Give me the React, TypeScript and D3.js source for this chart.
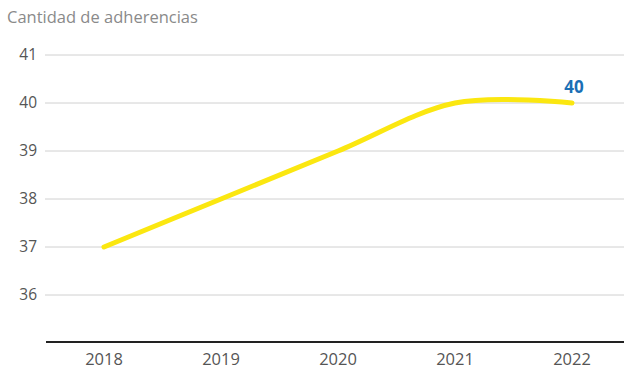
import React from "react";
import * as d3 from "d3";

const years = [2018, 2019, 2020, 2021, 2022];
const values = [37, 38, 39, 40, 40];
const yTicks = [36, 37, 38, 39, 40, 41];
const title = "Cantidad de adherencias";

export default function App() {
  const W = 624, H = 369;
  const x = d3.scalePoint<number>().domain(years).range([104, 572]);
  const y = d3.scaleLinear().domain([35, 41]).range([343, 55]);
  const line = d3
    .line<number>()
    .x((_, i) => x(years[i]) as number)
    .y((d) => y(d))
    .curve(d3.curveCardinal);
  const font = "'Open Sans', 'Noto Sans', sans-serif";
  const last = values[values.length - 1];
  return (
    <svg width={W} height={H} style={{ position: "absolute", left: 0, top: 0 }} fontFamily={font}>
      <rect width={W} height={H} fill="#fff" />
      <text x={7} y={23} fontSize={16.5} fill="#8a8a8a">{title}</text>
      {yTicks.map((t) => (
        <g key={t}>
          <line x1={45} x2={W} y1={y(t)} y2={y(t)} stroke="#d0d0d0" strokeWidth={1} />
          <text x={37} y={y(t)} dy="0.35em" textAnchor="end" fontSize={15.5} fill="#555">{t}</text>
        </g>
      ))}
      <line x1={46} x2={W} y1={342} y2={342} stroke="#222" strokeWidth={2} />
      {years.map((yr) => (
        <text key={yr} x={x(yr)} y={365} textAnchor="middle" fontSize={16.5} fill="#555">{yr}</text>
      ))}
      <path d={line(values) || ""} fill="none" stroke="#fbe710" strokeWidth={5} strokeLinecap="round" />
      <text x={(x(years[years.length - 1]) as number) + 2} y={y(last) - 10} textAnchor="middle" fontSize={17} fontWeight={700} fill="#1a6fb5">{last}</text>
    </svg>
  );
}
